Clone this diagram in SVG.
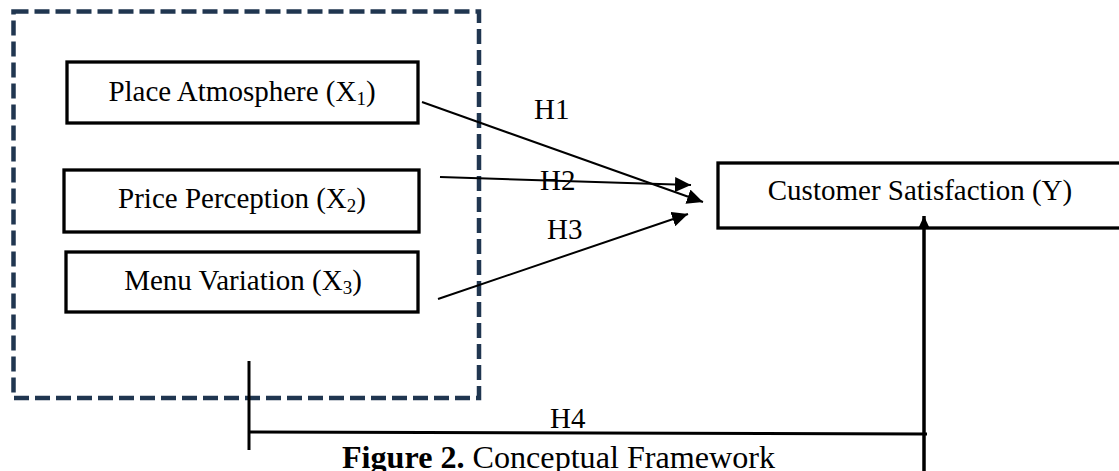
<svg xmlns="http://www.w3.org/2000/svg" width="1119" height="471" viewBox="0 0 1119 471">
<style>
.box{fill:#fff;stroke:#000;stroke-width:3.3}
.t{font-family:"Liberation Serif","Times New Roman",serif;font-size:29px;fill:#000}
.sub{font-size:19px}
.conn{stroke:#000;fill:none}
</style>
<defs>
<marker id="ah" markerUnits="userSpaceOnUse" markerWidth="17" markerHeight="15" refX="16" refY="7.5" orient="auto">
<path d="M0,0 L16,7.5 L0,15 Z" fill="#000"/>
</marker>
<marker id="ahv" markerUnits="userSpaceOnUse" markerWidth="14" markerHeight="12" refX="13" refY="6" orient="auto">
<path d="M0,0 L13,6 L0,12 Z" fill="#000"/>
</marker>
</defs>
<rect width="1119" height="471" fill="#fff"/>
<g id="group-box">
<rect x="13.5" y="11.5" width="465.5" height="386.5" fill="none" stroke="#203650" stroke-width="4.5" stroke-dasharray="15 6"/>
</g>
<g id="node-x1">
<rect class="box" x="67" y="62" width="351" height="61"/>
<text class="t" x="242" y="101" text-anchor="middle">Place Atmosphere (X<tspan class="sub" dy="4">1</tspan><tspan dy="-4">)</tspan></text>
</g>
<g id="node-x2">
<rect class="box" x="64" y="170" width="355" height="62"/>
<text class="t" x="242" y="208" text-anchor="middle">Price Perception (X<tspan class="sub" dy="4">2</tspan><tspan dy="-4">)</tspan></text>
</g>
<g id="node-x3">
<rect class="box" x="66" y="252" width="352" height="60"/>
<text class="t" x="243" y="290" text-anchor="middle">Menu Variation (X<tspan class="sub" dy="4">3</tspan><tspan dy="-4">)</tspan></text>
</g>
<g id="node-y">
<rect class="box" x="718" y="163" width="420" height="65"/>
<text class="t" x="920" y="200" text-anchor="middle">Customer Satisfaction (Y)</text>
</g>
<g id="connectors">
<line class="conn" x1="422" y1="102" x2="703" y2="202" stroke-width="2" marker-end="url(#ah)"/>
<line class="conn" x1="440" y1="177" x2="691" y2="185" stroke-width="2" marker-end="url(#ah)"/>
<line class="conn" x1="438" y1="299" x2="688" y2="214" stroke-width="2" marker-end="url(#ah)"/>
<line class="conn" x1="249" y1="361" x2="249" y2="450" stroke-width="3"/>
<line class="conn" x1="249" y1="432" x2="927" y2="434" stroke-width="3"/>
<line class="conn" x1="924" y1="480" x2="924" y2="216" stroke-width="3.5" marker-end="url(#ahv)"/>
<text class="t" x="534" y="119">H1</text>
<text class="t" x="540" y="190">H2</text>
<text class="t" x="547" y="239">H3</text>
<text class="t" x="550" y="428">H4</text>
</g>
<g id="caption">
<text class="t" x="342" y="468" textLength="433" lengthAdjust="spacingAndGlyphs" style="font-size:30.5px"><tspan font-weight="bold">Figure 2.</tspan> Conceptual Framework</text>
</g>
</svg>
